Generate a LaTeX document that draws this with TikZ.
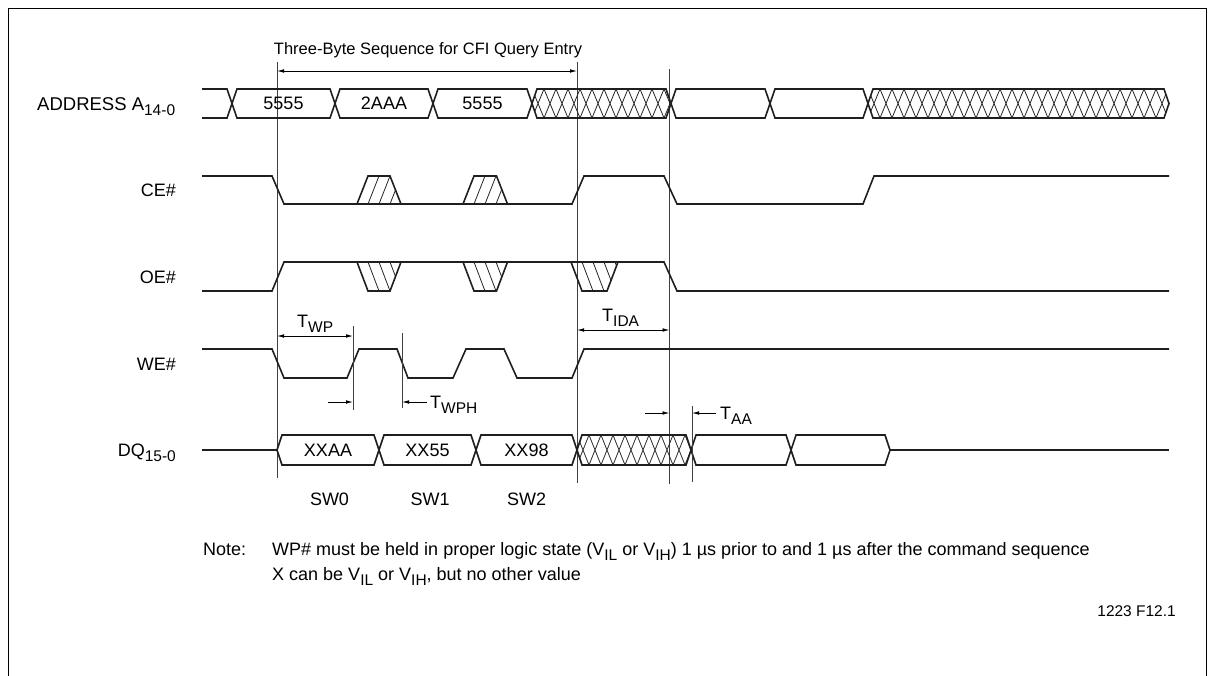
\documentclass[tikz,border=0pt]{standalone}
\usepackage{fontspec}
\setmainfont{Liberation Sans}
\usetikzlibrary{arrows.meta}
\newcommand\sbs[1]{\raisebox{-0.55ex}{\fontsize{15.5}{16}\selectfont #1}}
\newcommand\busseg[4]{%
  \pgfmathsetmacro\bm{(#3+#4)/2}%
  \draw[sig] (#1,\bm) -- ({#1+5},#3) -- ({#2-5},#3) -- (#2,\bm) -- ({#2-5},#4) -- ({#1+5},#4) -- cycle;}
\newcommand\hatchseg[4]{%
  \pgfmathsetmacro\bm{(#3+#4)/2}%
  \begin{scope}
    \clip (#1,\bm) -- ({#1+5},#3) -- ({#2-5},#3) -- (#2,\bm) -- ({#2-5},#4) -- ({#1+5},#4) -- cycle;
    \foreach \k in {0,...,30} {
      \pgfmathsetmacro\xa{#1+\k*12}
      \draw[hatch] (\xa,#3) -- ({\xa+12},#4) (\xa,#4) -- ({\xa+12},#3);
    }
  \end{scope}
  \busseg{#1}{#2}{#3}{#4}}
\newcommand\glitch[4]{%
  \begin{scope}
    \clip (#1,#3) -- ({#1+11},#4) -- ({#1+#2-11},#4) -- ({#1+#2},#3) -- cycle;
    \foreach \k in {1,...,4} {
      \pgfmathsetmacro\xa{#1+\k*11}
      \draw[hatch] (\xa,#3) -- ({\xa+11},#4);
    }
  \end{scope}
  \draw[sig] (#1,#3) -- ({#1+11},#4) -- ({#1+#2-11},#4) -- ({#1+#2},#3);}
\begin{document}
\begin{tikzpicture}[x=1pt,y=-1pt,
  sig/.style={line width=1.6pt,line join=miter,color=black!88},
  hatch/.style={line width=0.8pt,color=black!85},
  vline/.style={line width=0.9pt,color=black!75},
  dim/.style={line width=0.8pt,{Latex[length=7pt,width=3.6pt]}-{Latex[length=7pt,width=3.6pt]}},
  rarr/.style={line width=0.8pt,-{Latex[length=7pt,width=3.6pt]}},
  lbl/.style={inner sep=0pt,font=\fontsize{18}{21}\selectfont}]
\useasboundingbox (0,0) rectangle (1213,675);
\draw[line width=1.6pt] (8.5,676) -- (8.5,8.5) -- (1206.5,8.5) -- (1206.5,676);

% labels
\node[lbl,anchor=base west,font=\fontsize{18.5}{21}\selectfont] (la) at (37,110) {ADDRESS A\sbs{14-0}};
\node[lbl,anchor=base east] (lce) at (176,196.5) {CE\#};
\node[lbl,anchor=base east] (loe) at (176,283) {OE\#};
\node[lbl,anchor=base east] (lwe) at (176,370) {WE\#};
\node[lbl,anchor=base east] (ldq) at (176,456.5) {DQ\sbs{15-0}};

% vertical reference lines
\coordinate (v1t) at (277,62); \coordinate (v1b) at (277,478);
\coordinate (v2t) at (577,62); \coordinate (v2b) at (577,483);
\coordinate (v3t) at (669.5,69); \coordinate (v3b) at (669.5,484);
\draw[vline] (v1t) -- (v1b);
\draw[vline] (v2t) -- (v2b);
\draw[vline] (v3t) -- (v3b);

\node[lbl,font=\fontsize{16.5}{19}\selectfont] (seq) at (428,50) {Three-Byte Sequence for CFI Query Entry};
\coordinate (sa) at (277,71); \coordinate (sb) at (577,71);
\draw[dim] (sa) -- (sb);

% ADDRESS bus
\draw[sig] (202,89) -- (227,89) -- (232,103.5) -- (227,118) -- (202,118);
\busseg{232}{335}{89}{118}
\busseg{335}{433}{89}{118}
\busseg{433}{532}{89}{118}
\hatchseg{532}{671}{89}{118}
\busseg{671}{770}{89}{118}
\busseg{770}{868}{89}{118}
\hatchseg{868}{1169}{89}{118}
\node[lbl] (a1) at (283.5,103.5) {5555};
\node[lbl] (a2) at (384,103.5) {2AAA};
\node[lbl] (a3) at (482.5,103.5) {5555};

% CE#
\draw[sig] (202,176) -- (272,176) -- (284,204) -- (572,204) -- (584,176) -- (664,176) -- (677,204) -- (863,204) -- (874,176) -- (1169,176);
\glitch{357}{44}{204}{176}
\glitch{463}{44.5}{204}{176}

% OE#
\draw[sig] (202,291) -- (272,291) -- (284,262) -- (664,262) -- (677,291) -- (1169,291);
\glitch{357}{44}{262}{291}
\glitch{463}{44.5}{262}{291}
\glitch{571}{47}{262}{291}

% WE#
\draw[sig] (202,349) -- (272,349) -- (284,378) -- (347,378) -- (359,349) -- (397,349) -- (408,378) -- (453,378) -- (466,349) -- (504,349) -- (517,378) -- (572,378) -- (584,349) -- (1169,349);

% DQ
\draw[sig] (202,450) -- (277,450);
\busseg{277}{379}{435}{465}
\busseg{379}{476}{435}{465}
\busseg{476}{577}{435}{465}
\hatchseg{577}{691}{435}{465}
\busseg{691}{791}{435}{465}
\busseg{791}{890}{435}{465}
\draw[sig] (890,450) -- (1169,450);
\node[lbl] (d1) at (328,450) {XXAA};
\node[lbl] (d2) at (427.5,450) {XX55};
\node[lbl] (d3) at (526.5,450) {XX98};

% timing marks
\coordinate (wpt) at (353,326); \coordinate (wpb) at (353,410);
\draw[vline] (wpt) -- (wpb);
\coordinate (wpht) at (402,333); \coordinate (wphb) at (402,408);
\draw[vline] (wpht) -- (wphb);
\coordinate (aat) at (692,406); \coordinate (aab) at (692,482);
\draw[vline] (aat) -- (aab);

\coordinate (twpa) at (277,336); \coordinate (twpb) at (353,336);
\draw[dim] (twpa) -- (twpb);
\node[lbl,anchor=base west] (twp) at (297,327) {T\sbs{WP}};
\coordinate (tida) at (577,330); \coordinate (tidb) at (669.5,330);
\draw[dim] (tida) -- (tidb);
\node[lbl,anchor=base west] (tidal) at (602,321) {T\sbs{IDA}};

\coordinate (w1) at (328,402); \coordinate (w1e) at (353,402);
\draw[rarr] (w1) -- (w1e);
\coordinate (w2) at (427,402); \coordinate (w2e) at (402,402);
\draw[rarr] (w2) -- (w2e);
\node[lbl,anchor=base west] (twph) at (430,408) {T\sbs{WPH}};

\coordinate (t1) at (645,413); \coordinate (t1e) at (669.5,413);
\draw[rarr] (t1) -- (t1e);
\coordinate (t2) at (716,413); \coordinate (t2e) at (692,413);
\draw[rarr] (t2) -- (t2e);
\node[lbl,anchor=base west] (taa) at (720,419) {T\sbs{AA}};

% SW labels
\node[lbl] (sw0) at (329.5,499) {SW0};
\node[lbl] (sw1) at (430,499) {SW1};
\node[lbl] (sw2) at (526.5,499) {SW2};

% note
\node[lbl,anchor=base west] (note) at (203,555) {Note:};
\node[lbl,anchor=base west] (n1) at (272,555) {WP\# must be held in proper logic state (V\sbs{IL} or V\sbs{IH}) 1 µs prior to and 1 µs after the command sequence};
\node[lbl,anchor=base west] (n2) at (272,580) {X can be V\sbs{IL} or V\sbs{IH}, but no other value};
\node[lbl,anchor=east,font=\fontsize{15.5}{18}\selectfont] (fig) at (1176,611) {1223 F12.1};
\end{tikzpicture}
\end{document}
